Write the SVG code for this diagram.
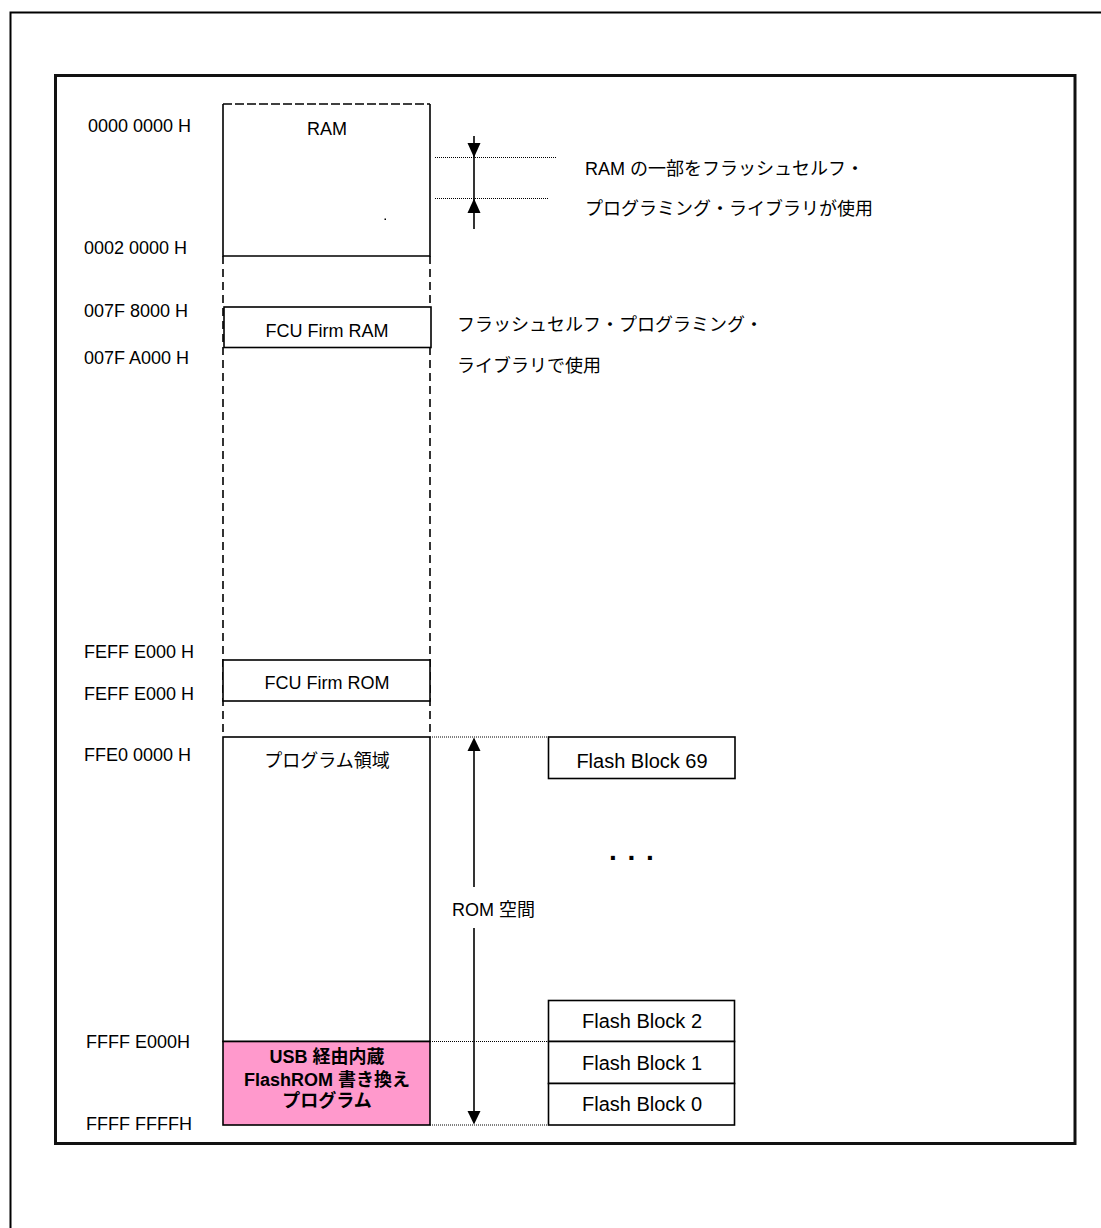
<svg xmlns="http://www.w3.org/2000/svg" width="1101" height="1228" viewBox="0 0 1101 1228">
<style>
text{font-family:"Liberation Sans","Noto Sans CJK JP",sans-serif;font-size:18px;fill:#000}
.c{text-anchor:middle}
.b{font-weight:bold}
.fb{font-size:20px}
.box{fill:#fff;stroke:#000;stroke-width:1.6}
.sl{stroke:#000;stroke-width:1.6;fill:none}
.dash{stroke:#000;stroke-width:1.6;stroke-dasharray:8 5;fill:none}
.dot{stroke:#000;stroke-width:1;stroke-dasharray:1 1;fill:none}
.ah{fill:#000}
</style>
<rect x="0" y="0" width="1101" height="1228" fill="#fff"/>
<rect x="10.5" y="12.5" width="1200" height="1300" fill="none" stroke="#000" stroke-width="2"/>
<rect x="55.5" y="75.5" width="1019.5" height="1068" fill="none" stroke="#111" stroke-width="3"/>

<g id="address-labels">
<text x="88" y="132">0000 0000 H</text>
<text x="84" y="254">0002 0000 H</text>
<text x="84" y="317">007F 8000 H</text>
<text x="84" y="364">007F A000 H</text>
<text x="84" y="658">FEFF E000 H</text>
<text x="84" y="700">FEFF E000 H</text>
<text x="84" y="761">FFE0 0000 H</text>
<text x="86" y="1048">FFFF E000H</text>
<text x="86" y="1130">FFFF FFFFH</text>
</g>

<g id="column-dashes">
<line class="dash" x1="223" y1="256" x2="223" y2="737"/>
<line class="dash" x1="430" y1="256" x2="430" y2="737"/>
</g>

<g id="ram">
<rect x="223" y="104" width="207" height="152" fill="#fff"/>
<line x1="223" y1="104" x2="430" y2="104" stroke="#000" stroke-width="1.6" stroke-dasharray="9 3"/>
<polyline class="sl" points="223,104 223,256 430,256 430,104"/>
<text class="c" x="327" y="135">RAM</text>
<rect x="384.5" y="218.5" width="1.5" height="1.5" fill="#000"/>
</g>

<g id="fcu-ram">
<rect class="box" x="224" y="307" width="207" height="40.5"/>
<text class="c" x="327" y="337">FCU Firm RAM</text>
</g>

<g id="fcu-rom">
<rect class="box" x="223" y="660" width="207" height="41"/>
<text class="c" x="327" y="689">FCU Firm ROM</text>
</g>

<g id="program-area">
<rect class="box" x="223" y="737" width="207" height="304.5"/>
<text class="c" x="327" y="767">プログラム領域</text>
</g>

<g id="usb-program">
<rect x="223" y="1041.5" width="207" height="83.5" fill="#ff99cc" stroke="#000" stroke-width="1.6"/>
<text class="c b" x="327" y="1063">USB 経由内蔵</text>
<text class="c b" x="327" y="1086">FlashROM 書き換え</text>
<text class="c b" x="327" y="1107">プログラム</text>
</g>

<g id="flash-block-69">
<rect class="box" x="548.5" y="737" width="186.5" height="41.5"/>
<text class="c fb" x="642" y="768">Flash Block 69</text>
</g>
<g id="flash-block-2">
<rect class="box" x="548.5" y="1000.5" width="186" height="41"/>
<text class="c fb" x="642" y="1028">Flash Block 2</text>
</g>
<g id="flash-block-1">
<rect class="box" x="548.5" y="1041.5" width="186" height="42"/>
<text class="c fb" x="642" y="1070">Flash Block 1</text>
</g>
<g id="flash-block-0">
<rect class="box" x="548.5" y="1083.5" width="186" height="41.5"/>
<text class="c fb" x="642" y="1111">Flash Block 0</text>
</g>
<text x="609" y="860" style="font-size:28px;font-weight:bold;letter-spacing:1.45px">. . .</text>

<g id="notes">
<text x="585" y="175">RAM の一部をフラッシュセルフ・</text>
<text x="585" y="215">プログラミング・ライブラリが使用</text>
<text x="457" y="331">フラッシュセルフ・プログラミング・</text>
<text x="457" y="372">ライブラリで使用</text>
<text class="c" x="493.5" y="916">ROM 空間</text>
</g>

<g id="connectors">
<line class="dot" x1="435" y1="157.5" x2="557" y2="157.5"/>
<line class="dot" x1="435" y1="198.5" x2="548" y2="198.5"/>
<line class="sl" x1="474" y1="136" x2="474" y2="229"/>
<polygon class="ah" points="467.5,143 480.5,143 474,157.5"/>
<polygon class="ah" points="467.5,213 480.5,213 474,198.5"/>

<line class="dot" x1="430" y1="737" x2="548.5" y2="737"/>
<line class="dot" x1="430" y1="1041.5" x2="548.5" y2="1041.5"/>
<line class="dot" x1="430" y1="1125" x2="548.5" y2="1125"/>

<line class="sl" x1="474" y1="750" x2="474" y2="887"/>
<line class="sl" x1="474" y1="928" x2="474" y2="1112"/>
<polygon class="ah" points="467.5,751 480.5,751 474,737.5"/>
<polygon class="ah" points="467.5,1111 480.5,1111 474,1124.5"/>
</g>
</svg>
